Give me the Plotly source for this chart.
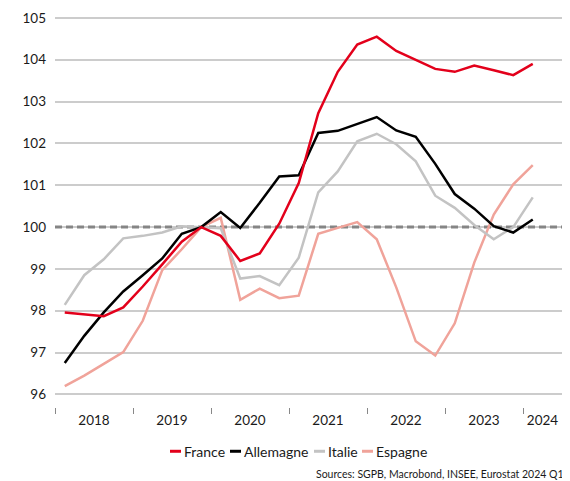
import plotly.graph_objects as go

quarters = [f"{y}Q{q}" for y in range(2018, 2025) for q in range(1, 5)][:25]
x_pos = [int(s[:4]) + (int(s[-1]) - 0.5) / 4 for s in quarters]

france = [97.96, 97.91, 97.87, 98.08, 98.58, 99.11, 99.65, 100.0, 99.79, 99.19, 99.37, 100.08,
          101.05, 102.72, 103.71, 104.36, 104.55, 104.21, 103.99, 103.78, 103.71, 103.86, 103.75, 103.63, 103.90]
allemagne = [96.75, 97.40, 97.96, 98.46, 98.85, 99.25, 99.84, 100.0, 100.36, 99.98, 100.58, 101.21,
             101.24, 102.25, 102.30, 102.46, 102.63, 102.31, 102.16, 101.51, 100.79, 100.44, 100.02, 99.87, 100.18]
italie = [98.14, 98.85, 99.23, 99.73, 99.79, 99.87, 100.02, 100.0, 99.97, 98.77, 98.83, 98.61,
          99.27, 100.83, 101.33, 102.05, 102.23, 101.98, 101.57, 100.75, 100.46, 100.05, 99.71, 100.0, 100.71]
espagne = [96.20, 96.45, 96.73, 97.01, 97.76, 98.97, 99.47, 100.0, 100.22, 98.26, 98.53, 98.30,
           98.36, 99.84, 99.98, 100.12, 99.71, 98.56, 97.27, 96.93, 97.70, 99.15, 100.30, 101.02, 101.48]

series = [("France", france, "#E3001B"), ("Allemagne", allemagne, "#000000"),
          ("Italie", italie, "#C3C3C3"), ("Espagne", espagne, "#F0A39A")]

base_level = 100
x_range = [2018, 2024.5]
y_range = [95.7, 105.14]
year_labels = ["2018", "2019", "2020", "2021", "2022", "2023", "2024"]
label_pos = [2018.5, 2019.5, 2020.5, 2021.5, 2022.5, 2023.5, 2024.25]
year_bounds = [2018, 2019, 2020, 2021, 2022, 2023, 2024]
y_ticks = [96, 97, 98, 99, 100, 101, 102, 103, 104, 105]

FONT = "Lato"
OFF = 8  # page body margin
W, H = 570 - OFF, 481 - OFF
ML, MR, MT, MB = 55 - OFF, 8, 2, 74
PW, PH = W - ML - MR, H - MT - MB

def px_x(px):  # reference window pixel -> paper coordinate
    return (px - OFF - ML) / PW

def px_y(py):
    return (H - MB - (py - OFF)) / PH

fig = go.Figure()
# base-100 reference line (under the series, above the grid)
fig.add_trace(go.Scatter(x=x_range, y=[base_level, base_level], mode="lines", showlegend=False,
                         hoverinfo="skip", line=dict(color="#858585", width=3, dash="7px,4px")))
# draw order: Espagne, Italie, Allemagne, France on top
for name, vals, col in reversed(series):
    fig.add_trace(go.Scatter(x=x_pos, y=vals, mode="lines", name=name,
                             line=dict(color=col, width=2.5), showlegend=False))

# legend (symbol + label), laid out like the reference
legend_sym_x = [170, 230, 314, 362]
annotations = []
for (name, vals, col), sx in zip(series, legend_sym_x):
    fig.add_shape(type="line", xref="paper", yref="paper",
                  x0=px_x(sx), x1=px_x(sx + 11), y0=px_y(451.5), y1=px_y(451.5),
                  line=dict(color=col, width=3))
    annotations.append(dict(text=name, xref="paper", yref="paper", x=px_x(sx + 12), y=px_y(451.5),
                            xanchor="left", yanchor="middle", showarrow=False,
                            font=dict(size=14, color="#1a1a1a")))

annotations.append(dict(text="Sources: SGPB, Macrobond, INSEE, Eurostat 2024 Q1", xref="paper", yref="paper",
                        x=px_x(566), y=px_y(474), xanchor="right", yanchor="middle", showarrow=False,
                        font=dict(size=10.5, color="#1a1a1a")))

fig.update_layout(
    width=W, height=H,
    margin=dict(l=ML, r=MR, t=MT, b=MB),
    plot_bgcolor="white", paper_bgcolor="white",
    font=dict(family=FONT, size=13.5, color="#1a1a1a"),
    showlegend=False,
    xaxis=dict(range=x_range, tickmode="array", tickvals=label_pos, ticktext=year_labels,
               ticks="", showgrid=False, zeroline=False, showline=False,
               minor=dict(tickmode="array", tickvals=year_bounds, ticks="outside", ticklen=6,
                          tickcolor="#888888", tickwidth=1, showgrid=False),
               ticklabelstandoff=3, ticklabeloverflow="allow"),
    yaxis=dict(range=y_range, tickmode="array", tickvals=y_ticks, showgrid=True,
               gridcolor="#CCCCCC", gridwidth=1.5, zeroline=False, showline=False,
               ticks="", ticklabelstandoff=8, ticklabeloverflow="allow"),
    annotations=annotations,
)
fig.write_html("out.html")
